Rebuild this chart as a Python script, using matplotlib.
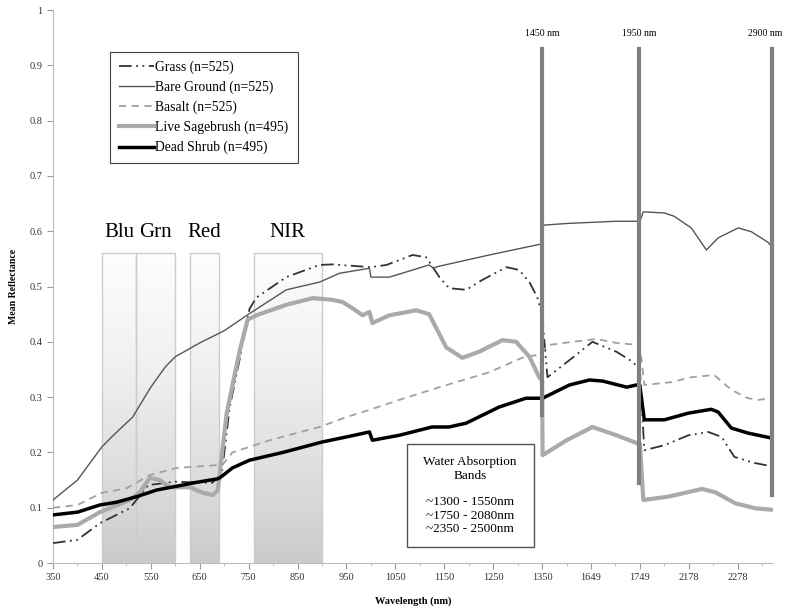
import numpy as np
import matplotlib
matplotlib.use("Agg")
import matplotlib.pyplot as plt
from matplotlib.patches import Rectangle
from matplotlib.ticker import FixedLocator, MultipleLocator

plt.rcParams['font.family'] = ['Liberation Serif', 'DejaVu Serif']

# ---------- data (wavelength in nm, mean reflectance) ----------
grass_nm = [350, 400, 446, 507, 545, 600, 675, 695, 711, 732, 752, 766, 827, 895, 921, 1000,
            1032, 1085, 1113, 1140, 1160, 1195, 1228, 1277, 1303, 1324, 1340, 1350,
            1560, 1611, 1652, 1701, 1734, 1749,
            2087, 2128, 2177, 2218, 2245, 2271, 2312, 2347]
grass = [0.036, 0.042, 0.072, 0.099, 0.141, 0.147, 0.145, 0.16, 0.28, 0.37, 0.46, 0.48, 0.517, 0.539, 0.54, 0.535,
         0.539, 0.557, 0.553, 0.517, 0.497, 0.494, 0.512, 0.535, 0.53, 0.508, 0.481, 0.45,
         0.336, 0.371, 0.40, 0.382, 0.364, 0.35,
         0.204, 0.213, 0.231, 0.237, 0.228, 0.192, 0.181, 0.175]

bare_nm = [350, 400, 450, 470, 513, 550, 580, 600, 650, 700, 750, 827, 895, 936, 997, 1000,
           1038, 1119, 1128, 1136, 1242, 1338, 1350,
           1552, 1600, 1700, 1749,
           2085, 2128, 2148, 2183, 2214, 2238, 2279, 2306, 2340, 2349]
bare = [0.114, 0.15, 0.21, 0.228, 0.264, 0.318, 0.355, 0.373, 0.398, 0.42, 0.45, 0.494, 0.508, 0.524, 0.533, 0.517,
        0.517, 0.539, 0.533, 0.536, 0.557, 0.575, 0.577,
        0.611, 0.614, 0.618, 0.618,
        0.635, 0.633, 0.627, 0.606, 0.566, 0.588, 0.606, 0.599, 0.58, 0.57]

basalt_nm = [350, 400, 450, 500, 548, 603, 685, 697, 717, 793, 895, 950, 997, 1038, 1058, 1140, 1242, 1309, 1338, 1350,
             1560, 1611, 1660, 1701, 1749,
             2087, 2142, 2183, 2230, 2265, 2299, 2320, 2349]
basalt = [0.10, 0.105, 0.127, 0.135, 0.159, 0.172, 0.177, 0.178, 0.20, 0.222, 0.246, 0.264, 0.277, 0.289, 0.295, 0.318, 0.345, 0.371, 0.376, 0.38,
          0.394, 0.40, 0.405, 0.398, 0.394,
          0.322, 0.327, 0.336, 0.34, 0.313, 0.298, 0.295, 0.298]

sage_nm = [350, 400, 446, 507, 528, 548, 568, 589, 630, 656, 677, 687, 705, 732, 748, 766, 827, 881, 921, 942, 962, 983,
           997, 1003, 1038, 1093, 1119, 1154, 1187, 1221, 1269, 1297, 1324, 1344, 1350,
           1550, 1599, 1652, 1701, 1742, 1749,
           2085, 2136, 2205, 2232, 2273, 2314, 2351]
sage = [0.065, 0.069, 0.092, 0.114, 0.128, 0.154, 0.15, 0.137, 0.137, 0.127, 0.123, 0.132, 0.27, 0.385, 0.44, 0.448, 0.467, 0.479, 0.476, 0.472, 0.461, 0.448,
        0.454, 0.434, 0.448, 0.457, 0.45, 0.39, 0.371, 0.382, 0.403, 0.40, 0.373, 0.336, 0.33,
        0.195, 0.222, 0.246, 0.231, 0.217, 0.215,
        0.114, 0.12, 0.134, 0.128, 0.108, 0.099, 0.096]

dead_nm = [350, 400, 446, 480, 521, 562, 603, 644, 685, 691, 717, 752, 820, 901, 950, 997, 1003, 1058, 1125, 1160, 1195, 1262, 1317, 1350,
           1550, 1605, 1646, 1673, 1722, 1742, 1749,
           2087, 2128, 2177, 2224, 2238, 2265, 2299, 2347]
dead = [0.087, 0.092, 0.105, 0.11, 0.12, 0.132, 0.139, 0.146, 0.152, 0.154, 0.172, 0.186, 0.2, 0.219, 0.228, 0.237, 0.222, 0.231, 0.246, 0.246, 0.253, 0.282, 0.298, 0.298,
        0.298, 0.322, 0.331, 0.329, 0.318, 0.322, 0.32,
        0.259, 0.259, 0.271, 0.278, 0.273, 0.244, 0.235, 0.226]

# spectral band boxes (nm)
band_names = ['Blu', 'Grn', 'Red', 'NIR']
band_lo = [450, 520, 630, 760]
band_hi = [520, 600, 690, 900]
band_top = 0.56

# water absorption markers
marker_labels = ['1450 nm', '1950 nm', '2900 nm']
marker_pos = [1000, 1199, 1471]       # category position on the axis
marker_bottom = [0.268, 0.145, 0.123]
marker_top = 0.93

xtick_labels = ['350', '450', '550', '650', '750', '850', '950', '1050', '1150', '1250',
                '1350', '1649', '1749', '2178', '2278']
ytick_labels = ['0', '0.1', '0.2', '0.3', '0.4', '0.5', '0.6', '0.7', '0.8', '0.9', '1']


def to_pos(nm):
    # wavelengths -> category position (water bands are cut out of the axis)
    nm = np.asarray(nm, float)
    return np.where(nm <= 1350, nm - 350, np.where(nm <= 1750, nm - 549, nm - 878))


fig = plt.figure(figsize=(7.86, 6.10), dpi=100)
ax = fig.add_axes([0.0674, 0.077, 0.916, 0.9066])

# ---------- band boxes with gradient ----------
grad = np.linspace(0, 1, 256).reshape(-1, 1)
for lo, hi in zip(band_lo, band_hi):
    x0, x1 = to_pos(lo), to_pos(hi)
    ax.imshow(grad, extent=(x0, x1, 0, band_top), origin='upper', cmap='Greys',
              vmin=-0.05, vmax=3.3, aspect='auto', zorder=0)
    ax.add_patch(Rectangle((x0, 0), x1 - x0, band_top, fill=False,
                           edgecolor='#cccccc', lw=1, zorder=1))
for name, lo, hi in zip(band_names, band_lo, band_hi):
    ax.text((to_pos(lo) + to_pos(hi)) / 2, 0.597, name, ha='center', va='center',
            fontsize=15, color='black')

# ---------- series ----------
ax.plot(to_pos(grass_nm), grass, color='#333333', lw=1.3,
        linestyle=(0, (7, 2.5, 1, 2.5, 1, 2.5)), label='Grass (n=525)', zorder=3)
ax.plot(to_pos(bare_nm), bare, color='#555555', lw=1.0, label='Bare Ground (n=525)', zorder=3)
ax.plot(to_pos(basalt_nm), basalt, color='#a0a0a0', lw=1.3, linestyle=(0, (4, 3)),
        label='Basalt (n=525)', zorder=3)
ax.plot(to_pos(sage_nm), sage, color='#aaaaaa', lw=3, label='Live Sagebrush (n=495)', zorder=3)
ax.plot(to_pos(dead_nm), dead, color='black', lw=2.5, label='Dead Shrub (n=495)', zorder=3)

# ---------- water absorption markers ----------
for i, (lab, p, b) in enumerate(zip(marker_labels, marker_pos, marker_bottom)):
    ax.plot([p, p], [b, marker_top], color='#808080', lw=3, zorder=4, clip_on=False)
    # last label sits at the right edge; keep it inside the figure
    ax.text(p - (14 if i == len(marker_labels) - 1 else 0), 0.957, lab,
            ha='center', va='center', fontsize=7, clip_on=False)

ax.add_patch(Rectangle((723, 0.029), 260, 0.186, facecolor='white',
                       edgecolor='#555555', lw=1, zorder=5))
ax.text(853, 0.122, 'Water Absorption\nBands\n\n~1300 - 1550nm\n~1750 - 2080nm\n~2350 - 2500nm',
        ha='center', va='center', fontsize=9.5, linespacing=1.15, zorder=6)

# ---------- axes ----------
ax.set_xlim(0, 1472)
ax.set_ylim(0, 1)
ax.xaxis.set_major_locator(FixedLocator(np.arange(0, 1401, 100)))
ax.set_xticklabels(xtick_labels)
ax.xaxis.set_minor_locator(MultipleLocator(50))
ax.yaxis.set_major_locator(FixedLocator(np.arange(0, 1.01, 0.1)))
ax.set_yticklabels(ytick_labels)
ax.tick_params(axis='both', which='major', labelsize=7.5, colors='#999999',
               labelcolor='#333333', length=4, width=0.8)
ax.tick_params(axis='x', which='minor', length=2, colors='#bbbbbb')
for s in ['top', 'right']:
    ax.spines[s].set_visible(False)
for s in ['left', 'bottom']:
    ax.spines[s].set_color('#bbbbbb')

ax.set_xlabel('Wavelength (nm)', fontsize=7.5, fontweight='bold', labelpad=10)
ax.set_ylabel('Mean Reflectance', fontsize=7, fontweight='bold', labelpad=8)

leg = ax.legend(loc='upper left', bbox_to_anchor=(0.079, 0.924), fontsize=9.8,
                handlelength=2.6, handletextpad=0.1, labelspacing=0.48,
                fancybox=False, framealpha=1, borderpad=0.65, borderaxespad=0)
leg.get_frame().set_edgecolor('#444444')
leg.get_frame().set_linewidth(0.8)

fig.savefig('out.png', dpi=100)
